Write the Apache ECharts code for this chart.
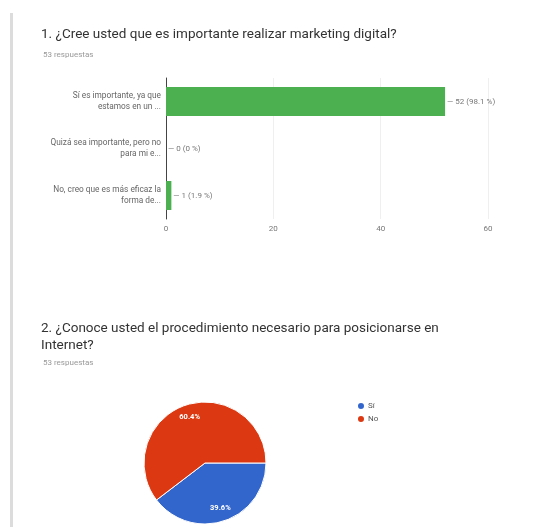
<!DOCTYPE html>
<html>
<head>
<meta charset="utf-8">
<script src="https://cdn.jsdelivr.net/npm/echarts@6/dist/echarts.min.js"></script>
<style>
  html, body { margin: 0; padding: 0; background: #fff; }
  #chart { width: 550px; height: 527px; }
</style>
</head>
<body>
<div id="chart"></div>
<script>
// ---- data ----
const q1Title = '1. ¿Cree usted que es importante realizar marketing digital?';
const q1Sub = '53 respuestas';
const q1Categories = [
  'Sí es importante, ya que\nestamos en un ...',
  'Quizá sea importante, pero no\npara mi e...',
  'No, creo que es más eficaz la\nforma de...'
];
const q1Values = [52, 0, 1];
const q1Percents = ['98.1', '0', '1.9'];
const q1Ticks = [0, 20, 40, 60];

const q2Title = '2. ¿Conoce usted el procedimiento necesario para posicionarse en\nInternet?';
const q2Sub = '53 respuestas';
const q2Names = ['Sí', 'No'];
const q2Values = [21, 32];
const q2Colors = ['#3366cc', '#dc3912'];

// ---- chart ----
const chart = echarts.init(document.getElementById('chart'));
const font = 'Roboto, "Noto Sans", sans-serif';

const pieData = q2Names.map((n, i) => ({ name: n, value: q2Values[i], itemStyle: { color: q2Colors[i] } }));

chart.setOption({
  backgroundColor: '#fff',
  animation: false,
  textStyle: { fontFamily: font },
  graphic: [
    { type: 'rect', left: 10, top: 13, shape: { width: 3, height: 520 }, style: { fill: '#dcdcdc' }, silent: true }
  ],
  title: [
    { text: q1Title, left: 36, top: 23, textStyle: { fontSize: 13.5, fontWeight: 'normal', color: '#333', fontFamily: font } },
    { text: q1Sub, left: 38, top: 46, textStyle: { fontSize: 8, fontWeight: 'normal', color: '#999', fontFamily: font } },
    { text: q2Title, left: 36, top: 315, textStyle: { fontSize: 13.5, fontWeight: 'normal', color: '#333', lineHeight: 17, fontFamily: font } },
    { text: q2Sub, left: 38, top: 354, textStyle: { fontSize: 8, fontWeight: 'normal', color: '#999', fontFamily: font } }
  ],
  grid: { left: 166, right: 62, top: 78, height: 141, containLabel: false },
  xAxis: {
    type: 'value', min: q1Ticks[0], max: q1Ticks[q1Ticks.length - 1], interval: q1Ticks[1] - q1Ticks[0],
    axisLine: { show: false }, axisTick: { show: false },
    splitLine: { lineStyle: { color: '#efefef' } },
    axisLabel: { color: '#777', fontSize: 8, margin: 6 }
  },
  yAxis: {
    type: 'category', inverse: true, data: q1Categories,
    axisLine: { show: true, lineStyle: { color: '#444', width: 1 } },
    axisTick: { show: false },
    axisLabel: { color: '#666', fontSize: 8.3, lineHeight: 11, margin: 5, align: 'right' }
  },
  legend: {
    orient: 'vertical', left: 351, top: 396, itemWidth: 8, itemHeight: 8, itemGap: 3,
    icon: 'circle',
    data: q2Names.map((n, i) => ({ name: n, itemStyle: { color: q2Colors[i] } })),
    textStyle: { fontSize: 8, color: '#555', padding: [0, 0, 0, -2] }
  },
  series: [
    {
      type: 'bar', data: q1Values, barWidth: 29,
      itemStyle: { color: '#4caf50' },
      label: {
        show: true, position: 'right', distance: 2, fontSize: 8, color: '#777',
        formatter: p => '— ' + p.value + ' (' + q1Percents[p.dataIndex] + ' %)'
      }
    },
    {
      type: 'pie', center: [205, 463], radius: 61, startAngle: 0, clockwise: true,
      data: pieData, label: { show: false }, labelLine: { show: false },
      itemStyle: { borderColor: '#fff', borderWidth: 1 }
    },
    {
      type: 'pie', center: [205, 463], radius: 90, startAngle: 0, clockwise: true, silent: true,
      data: q2Names.map((n, i) => ({ name: n, value: q2Values[i] })),
      itemStyle: { color: 'rgba(0,0,0,0)' }, percentPrecision: 1,
      label: { show: true, position: 'inside', formatter: '{d}%', color: '#fff', fontSize: 7.5, fontWeight: 'bold' },
      labelLine: { show: false }, legendHoverLink: false
    }
  ]
});
</script>
</body>
</html>
